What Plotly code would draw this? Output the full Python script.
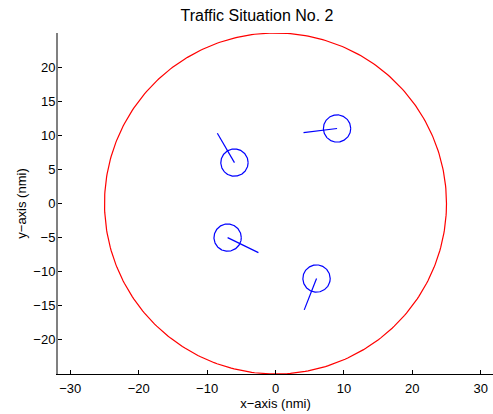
import numpy as np
import plotly.graph_objects as go

# Data
title_text = "Traffic Situation No. 2"
boundary_center = (0.0, 0.0)
boundary_radius = 25.0
aircraft_x = [9.0, -6.0, -7.0, 6.0]
aircraft_y = [11.0, 6.0, -5.0, -11.0]
aircraft_radius = 2.0
heading_end_x = [4.1, -8.5, -2.5, 4.2]
heading_end_y = [10.4, 10.3, -7.2, -15.6]
x_ticks = [-30, -20, -10, 0, 10, 20, 30]
y_ticks = [-20, -15, -10, -5, 0, 5, 10, 15, 20]

theta = np.linspace(0, 2 * np.pi, 361)

fig = go.Figure()

fig.add_trace(go.Scatter(
    x=boundary_center[0] + boundary_radius * np.cos(theta),
    y=boundary_center[1] + boundary_radius * np.sin(theta),
    mode="lines", line=dict(color="#ff0000", width=1.2), hoverinfo="skip"))

for cx, cy, ex, ey in zip(aircraft_x, aircraft_y, heading_end_x, heading_end_y):
    fig.add_trace(go.Scatter(
        x=cx + aircraft_radius * np.cos(theta),
        y=cy + aircraft_radius * np.sin(theta),
        mode="lines", line=dict(color="#0000ff", width=1.2), hoverinfo="skip"))
    fig.add_trace(go.Scatter(
        x=[cx, ex], y=[cy, ey],
        mode="lines", line=dict(color="#0000ff", width=1.2), hoverinfo="skip"))

font_family = "Liberation Sans, Arial, sans-serif"

fig.update_layout(
    width=493, height=414,
    margin=dict(l=58, r=0, t=33, b=40, autoexpand=False),
    paper_bgcolor="white", plot_bgcolor="white",
    showlegend=False,
    font=dict(family=font_family, size=13, color="black"),
    title=dict(text=title_text, font=dict(size=16, color="black", family=font_family),
               xref="container", yref="container", automargin=False,
               x=257 / 493, xanchor="center", y=1 - 15 / 414, yanchor="middle"),
    xaxis=dict(range=[-31.8, 31.8], tickvals=x_ticks, showgrid=False, zeroline=False,
               automargin=False,
               showline=True, linecolor="black", linewidth=1,
               ticks="inside", ticklen=4, tickcolor="black", tickwidth=1,
               ticklabelstandoff=2,
               tickfont=dict(size=13, color="black"),
               title=dict(text="x\u2212axis (nmi)", font=dict(size=13, color="black"), standoff=0)),
    yaxis=dict(range=[-25, 25], tickvals=y_ticks, showgrid=False, zeroline=False,
               automargin=False,
               showline=True, linecolor="#808080", linewidth=2,
               ticks="inside", ticklen=4, tickcolor="black", tickwidth=1,
               ticklabelstandoff=-2,
               tickfont=dict(size=13, color="black"),
               title=dict(text="y\u2212axis (nmi)", font=dict(size=13, color="black"), standoff=4)),
)

fig.write_html("out.html", config={"displayModeBar": False},
               post_script="document.body.style.margin='0';document.body.style.overflow='hidden';")
